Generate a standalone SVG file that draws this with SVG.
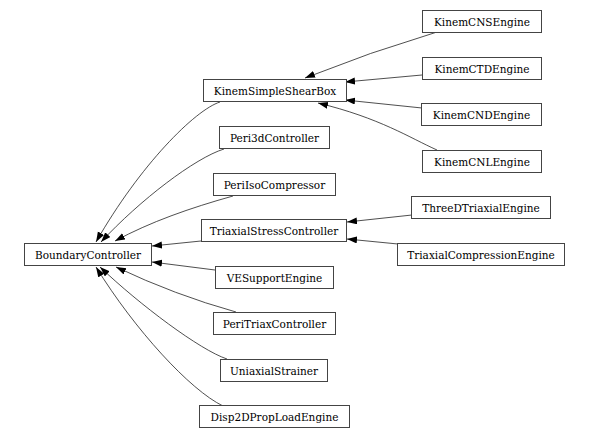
<svg xmlns="http://www.w3.org/2000/svg" width="589" height="439" viewBox="0 0 589 439">
<style>
.n rect{fill:#fff;stroke:#444;stroke-width:1}
.n text{font-family:"DejaVu Serif",serif;font-size:10.5px;fill:#000;text-anchor:middle}
.e path{fill:none;stroke:#222;stroke-width:0.8}
</style>
<defs>
<marker id="ah" markerUnits="userSpaceOnUse" markerWidth="11" markerHeight="8" refX="10" refY="3.5" orient="auto">
<path d="M0,0 L10,3.5 L0,7 z" fill="#000"/>
</marker>
</defs>
<rect width="589" height="439" fill="#fff"/>
<g id="edges" class="e">
<path marker-end="url(#ah)" d="M437,32 Q370,52 305,78"/>
<path marker-end="url(#ah)" d="M422,75 L345,82"/>
<path marker-end="url(#ah)" d="M422,108 L345,100"/>
<path marker-end="url(#ah)" d="M437,150 C410,138 380,118 318,103"/>
<path marker-end="url(#ah)" d="M412,215 L347,222"/>
<path marker-end="url(#ah)" d="M398,244 L347,239"/>
<path marker-end="url(#ah)" d="M220,102 C195,110 140,165 96,242"/>
<path marker-end="url(#ah)" d="M224,149 C195,158 140,200 101,242"/>
<path marker-end="url(#ah)" d="M233,196 C190,208 150,222 115,241"/>
<path marker-end="url(#ah)" d="M201,241 L152,246"/>
<path marker-end="url(#ah)" d="M215,270 L152,262"/>
<path marker-end="url(#ah)" d="M236,312 Q175,295 116,267"/>
<path marker-end="url(#ah)" d="M227,359 C200,350 140,305 100,267"/>
<path marker-end="url(#ah)" d="M223,406 C190,390 135,330 96,267"/>
</g>
<g id="KinemCNSEngine" class="n"><rect x="422.5" y="10.5" width="119" height="22"/><text x="482" y="25.5">KinemCNSEngine</text></g>
<g id="KinemCTDEngine" class="n"><rect x="422.5" y="57.5" width="119" height="22"/><text x="482" y="72.5">KinemCTDEngine</text></g>
<g id="KinemCNDEngine" class="n"><rect x="421.5" y="103.5" width="120" height="22"/><text x="481.5" y="118.5">KinemCNDEngine</text></g>
<g id="KinemCNLEngine" class="n"><rect x="422.5" y="150.5" width="119" height="22"/><text x="482" y="165.5">KinemCNLEngine</text></g>
<g id="ThreeDTriaxialEngine" class="n"><rect x="411.5" y="196.5" width="139" height="22"/><text x="481" y="211.5">ThreeDTriaxialEngine</text></g>
<g id="TriaxialCompressionEngine" class="n"><rect x="397.5" y="243.5" width="167" height="22"/><text x="481" y="258.5">TriaxialCompressionEngine</text></g>
<g id="KinemSimpleShearBox" class="n"><rect x="203.5" y="79.5" width="143" height="22"/><text x="275" y="94.5">KinemSimpleShearBox</text></g>
<g id="Peri3dController" class="n"><rect x="219.5" y="126.5" width="110" height="22"/><text x="274.5" y="141.5">Peri3dController</text></g>
<g id="PeriIsoCompressor" class="n"><rect x="213.5" y="173.5" width="122" height="22"/><text x="274.5" y="188.5">PeriIsoCompressor</text></g>
<g id="TriaxialStressController" class="n"><rect x="201.5" y="219.5" width="145" height="22"/><text x="274" y="234.5">TriaxialStressController</text></g>
<g id="BoundaryController" class="n"><rect x="24.5" y="243.5" width="127" height="22"/><text x="88" y="258.5">BoundaryController</text></g>
<g id="VESupportEngine" class="n"><rect x="215.5" y="266.5" width="118" height="22"/><text x="274.5" y="281.5">VESupportEngine</text></g>
<g id="PeriTriaxController" class="n"><rect x="213.5" y="312.5" width="122" height="22"/><text x="274.5" y="327.5">PeriTriaxController</text></g>
<g id="UniaxialStrainer" class="n"><rect x="220.5" y="359.5" width="107" height="22"/><text x="274" y="374.5">UniaxialStrainer</text></g>
<g id="Disp2DPropLoadEngine" class="n"><rect x="199.5" y="405.5" width="150" height="22"/><text x="274.5" y="420.5">Disp2DPropLoadEngine</text></g>
</svg>
